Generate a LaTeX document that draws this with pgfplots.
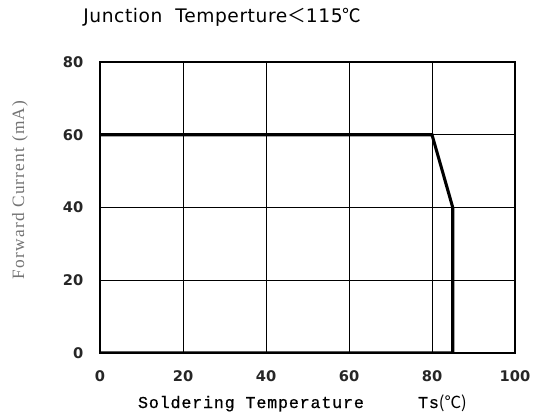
\documentclass[border=0pt]{standalone}
\usepackage{pgfplots}
\pgfplotsset{compat=1.18}
\usepackage{fontspec}
\setmainfont{DejaVu Sans}
\newfontfamily\titlefont[LetterSpace=3]{DejaVu Sans}
\newfontfamily\cjk{Noto Sans CJK SC}
\newfontfamily\tickfont{DejaVu Sans}
\newfontfamily\xlabfont[LetterSpace=5,FakeBold=0.6]{Liberation Mono}
\newfontfamily\ylabfont[LetterSpace=7]{Liberation Serif}
\begin{document}
\begin{tikzpicture}
\path[use as bounding box] (0,0) rectangle (400.5pt,310.5pt);
\begin{axis}[
  at={(75pt,45.75pt)}, anchor=south west,
  scale only axis,
  width=311.25pt, height=218.25pt,
  xmin=0, xmax=100, ymin=0, ymax=80,
  xtick={0,20,...,100}, ytick={0,20,...,80},
  grid=major,
  major grid style={black, line width=0.6pt},
  axis line style={black, line width=1.1pt},
  tick style={draw=none},
  /pgf/number format/assume math mode=true,
  tick label style={font=\tickfont\bfseries\fontsize{11}{12}\selectfont, text=black!85},
  xticklabel style={yshift=-10pt},
  yticklabel style={xshift=-9pt},
]
\addplot[black, line width=2.3pt, line join=miter] coordinates {(0,60) (80,60) (85,40) (85,0) (0,0)};
\end{axis}
\node[anchor=west] at (59pt,297.5pt) {\titlefont\fontsize{14}{16}\selectfont Junction\ \ Temperture{\cjk ＜}115{\cjk ℃}};
\node[anchor=base west] at (100pt,4.5pt) {\xlabfont\fontsize{12.5}{14}\selectfont Soldering Temperature\ \ \ \ \ Ts{\cjk (℃)}};
\node[rotate=90, text=black!55] at (15pt,168pt) {\ylabfont\fontsize{13}{14}\selectfont Forward Current (mA)};
\end{tikzpicture}
\end{document}
